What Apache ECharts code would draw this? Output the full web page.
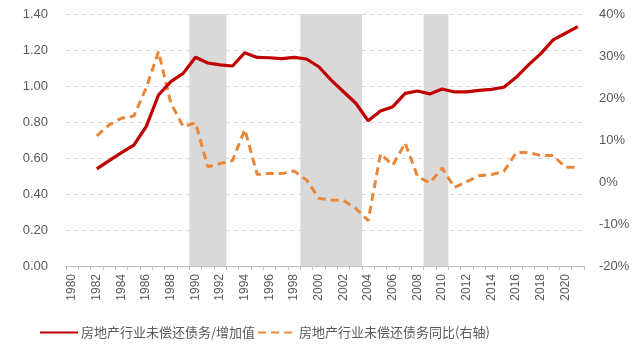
<!DOCTYPE html>
<html>
<head>
<meta charset="utf-8">
<script src="https://cdn.jsdelivr.net/npm/echarts@6/dist/echarts.min.js"></script>
<style>
html,body{margin:0;padding:0;background:#fff;}
#chart{width:640px;height:348px;}
</style>
</head>
<body>
<div id="chart"></div>
<script>
// Years on the category axis
const years = [];
for (let y = 1980; y <= 2021; y++) years.push(String(y));

// Outstanding real-estate debt / value added (left axis)
const debtRatio = [
  '-', '-', 0.54, 0.585, 0.63, 0.672, 0.774, 0.95, 1.024, 1.07,
  1.16, 1.128, 1.117, 1.111, 1.185, 1.159, 1.157, 1.152, 1.159, 1.15,
  1.107, 1.033, 0.968, 0.904, 0.807, 0.861, 0.885, 0.959, 0.972, 0.956,
  0.983, 0.967, 0.967, 0.976, 0.981, 0.993, 1.048, 1.117, 1.18, 1.256,
  1.293, 1.33
];

// Outstanding real-estate debt, year-on-year growth in % (right axis)
const debtYoY = [
  '-', '-', 11.0, 13.6, 15.2, 15.7, 22.4, 31.0, 18.8, 13.2,
  14.1, 3.6, 4.4, 5.1, 12.5, 1.8, 2.0, 2.0, 2.6, 0.5,
  -3.9, -4.3, -4.4, -6.3, -9.2, 6.7, 4.0, 9.3, 1.3, -0.2,
  3.3, -1.3, 0.1, 1.5, 1.8, 2.5, 7.0, 7.0, 6.3, 6.3,
  3.5, 3.5
];

// Shaded periods (first and last year, inclusive)
const shadedPeriods = [[1990, 1992], [1999, 2003], [2009, 2010]];

const seriesNames = ['房地产行业未偿还债务/增加值', '房地产行业未偿还债务同比(右轴)'];

const firstYear = +years[0];
// Shaded bands span whole year slots on a hidden linear axis aligned with the categories
const shadeAreas = shadedPeriods.map(p => [
  { xAxis: p[0] - firstYear },
  { xAxis: p[1] - firstYear + 1 }
]);

const axisFont = { color: '#595959', fontSize: 13, fontFamily: 'Liberation Sans, Arial, sans-serif' };

const chart = echarts.init(document.getElementById('chart'), null, { renderer: 'canvas' });
chart.setOption({
  animation: false,
  grid: { left: 66, right: 56, top: 14, bottom: 82 },
  legend: {
    data: seriesNames,
    left: 34,
    bottom: 4,
    itemWidth: 38,
    itemHeight: 10,
    itemGap: 2,
    itemStyle: { opacity: 0 },
    textStyle: { color: '#595959', fontSize: 13, fontFamily: 'Noto Sans CJK SC, sans-serif', padding: [0, 0, 0, -2] }
  },
  xAxis: [
    {
      type: 'category',
      data: years,
      boundaryGap: true,
      axisLine: { lineStyle: { color: '#bfbfbf', width: 1 } },
      axisTick: { show: true, interval: 0, length: 4, lineStyle: { color: '#bfbfbf' } },
      axisLabel: {
        interval: 1,
        rotate: 90,
        margin: 8,
        color: '#595959',
        fontSize: 12,
        fontFamily: 'Liberation Sans, Arial, sans-serif'
      },
      z: 5
    },
    {
      type: 'value',
      min: 0,
      max: years.length,
      show: false
    }
  ],
  yAxis: [
    {
      type: 'value',
      min: 0,
      max: 1.4,
      interval: 0.2,
      axisLine: { show: false },
      axisTick: { show: false },
      axisLabel: Object.assign({ formatter: v => v.toFixed(2), margin: 18 }, axisFont),
      splitLine: { show: true, lineStyle: { color: '#d9d9d9', type: [4, 4], width: 1 } }
    },
    {
      type: 'value',
      min: -20,
      max: 40,
      interval: 10,
      axisLine: { show: false },
      axisTick: { show: false },
      axisLabel: Object.assign({ formatter: v => v + '%', margin: 15 }, axisFont),
      splitLine: { show: false }
    }
  ],
  series: [
    {
      name: 'shade',
      type: 'line',
      xAxisIndex: 1,
      yAxisIndex: 0,
      data: [],
      silent: true,
      z: 1,
      markArea: {
        silent: true,
        itemStyle: { color: '#d9d9d9' },
        data: shadeAreas
      }
    },
    {
      name: seriesNames[0],
      type: 'line',
      data: debtRatio,
      yAxisIndex: 0,
      symbol: 'none',
      lineStyle: { color: '#c00000', width: 3.2 },
      itemStyle: { color: '#c00000' },
      z: 4
    },
    {
      name: seriesNames[1],
      type: 'line',
      data: debtYoY,
      yAxisIndex: 1,
      symbol: 'none',
      lineStyle: { color: '#e8873a', width: 3, type: [8, 5] },
      itemStyle: { color: '#e8873a' },
      z: 3
    }
  ]
});
</script>
</body>
</html>
